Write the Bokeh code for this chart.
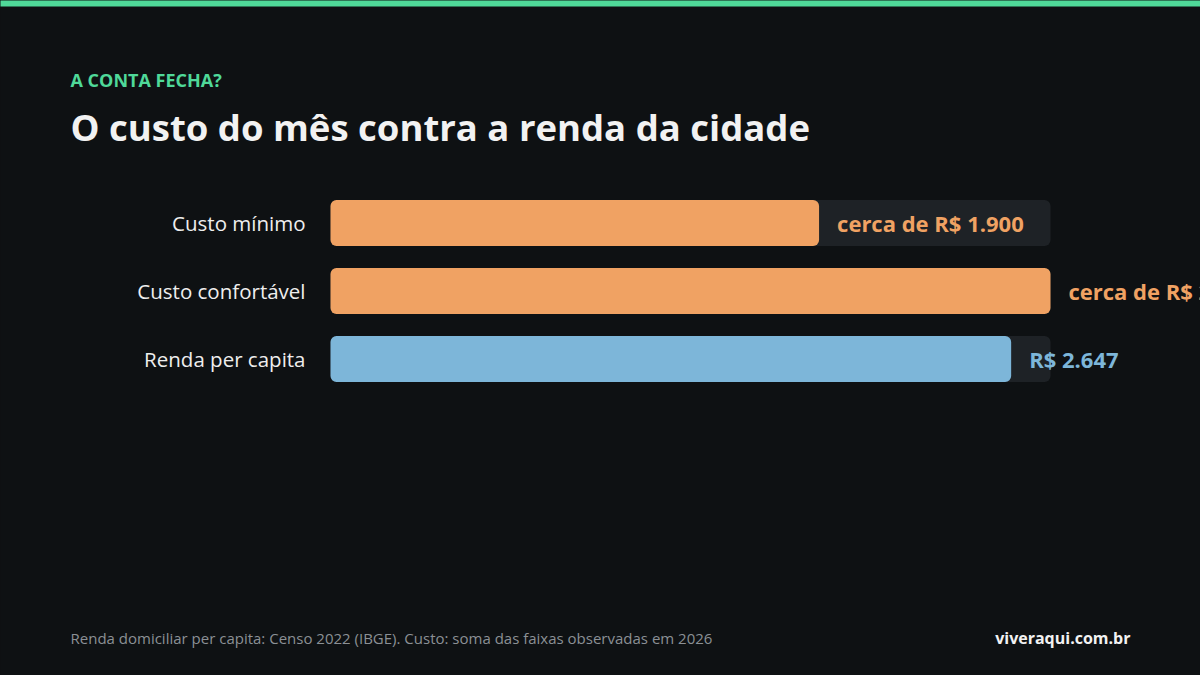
import numpy as np

from bokeh.core.properties import value
from bokeh.embed import file_html
from bokeh.models import ColumnDataSource, Range1d
from bokeh.plotting import figure
from bokeh.resources import INLINE

# data
categories = ["Custo mínimo", "Custo confortável", "Renda per capita"]
values = [1900, 2800, 2647]
value_labels = ["cerca de R$ 1.900", "cerca de R$ 2.800", "R$ 2.647"]
bar_colors = ["#f0a263", "#f0a263", "#7db6d9"]

kicker = "A CONTA FECHA?"
title = "O custo do mês contra a renda da cidade"
footnote = "Renda domiciliar per capita: Censo 2022 (IBGE). Custo: soma das faixas observadas em 2026"
brand = "viveraqui.com.br"

W, H = 1200, 675
BG = "#0e1113"
FONT = value("Open Sans")

# bar area on screen: 330px .. 1050px covers 0 .. max value
x_max = max(values)
k = (1050 - 330) / x_max
def px(x):
    # screen pixel -> data x
    return (x - 330) / k

p = figure(width=W, height=H, output_backend="svg", toolbar_location=None,
           x_range=Range1d(px(0), px(W)), y_range=Range1d(H, 0),
           min_border=0, background_fill_color=BG, border_fill_color=BG,
           outline_line_color=None)
p.axis.visible = False
p.grid.visible = False
# full bleed: pin the plot to the window corner (page has an 8px margin)
p.styles = {"position": "fixed", "top": "0px", "left": "0px", "margin": "0px",
            "border": "none", "background-color": BG}

# top stripe
p.quad(left=[px(-10)], right=[px(W + 10)], top=[-2], bottom=[6], color="#4fd999", line_color=None)

# bars
ys = [222.5 + 68 * i for i in range(len(categories))]
src = ColumnDataSource(dict(y=ys, v=values, c=bar_colors, cat=categories, lab=value_labels,
                            track=[x_max] * len(values),
                            lx=[v + 18 / k for v in values]))
p.hbar(y="y", left=0, right="track", height=46, source=src, color="#1e2226",
       line_color=None, border_radius=6)
p.hbar(y="y", left=0, right="v", height=46, source=src, color="c",
       line_color=None, border_radius=6)

p.text(x=px(305), y="y", text="cat", source=src, text_align="right", text_baseline="middle",
       text_color="#eeeeee", text_font=FONT, text_font_size="20.5px")
p.text(x="lx", y="y", text="lab", source=src, text_align="left", text_baseline="middle",
       text_color="c", text_font=FONT, text_font_size="22px", text_font_style="bold")

# headings
p.text(x=[px(70)], y=[79], text=[kicker], text_color="#4fd999", text_font=FONT,
       text_font_size="18px", text_font_style="bold", text_baseline="middle")
p.text(x=[px(70)], y=[126], text=[title], text_color="#f2f2f2", text_font=FONT,
       text_font_size="36.5px", text_font_style="bold", text_baseline="middle")

# footer
p.text(x=[px(70)], y=[637], text=[footnote], text_color="#8b9095", text_font=FONT,
       text_font_size="15px", text_baseline="middle")
p.text(x=[px(1130)], y=[637], text=[brand], text_color="#f2f2f2", text_font=FONT,
       text_font_size="16px", text_font_style="bold", text_baseline="middle", text_align="right")

open("out.html", "w").write(file_html(p, INLINE))
